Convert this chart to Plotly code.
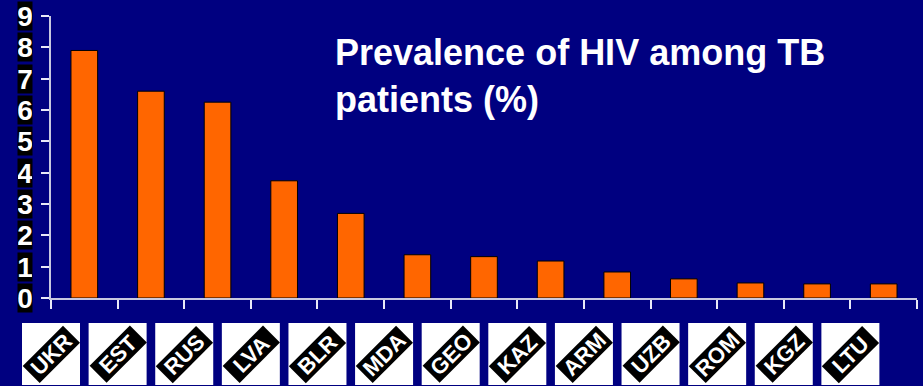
import plotly.graph_objects as go

countries = ["UKR", "EST", "RUS", "LVA", "BLR", "MDA", "GEO", "KAZ", "ARM", "UZB", "ROM", "KGZ", "LTU"]
prevalence = [7.9, 6.6, 6.25, 3.74, 2.7, 1.38, 1.32, 1.18, 0.83, 0.61, 0.48, 0.45, 0.45]
y_ticks = [0, 1, 2, 3, 4, 5, 6, 7, 8, 9]
title_text = "Prevalence of HIV among TB<br>patients (%)"

W, H = 923, 386
ML, MR, MT, MB = 51, 6, 16, 88
plot_w = W - ML - MR
plot_h = H - MT - MB
n = len(countries)

def px_to_paper_y(py):
    return (H - MB - py) / plot_h

def px_to_paper_x(px):
    return (px - ML) / plot_w

fig = go.Figure(go.Bar(
    x=countries, y=prevalence,
    marker=dict(color="#FF6600", line=dict(color="#000000", width=1)),
    width=0.4,
))

shapes = []
annotations = []
box_half = 29 / plot_w
for i, c in enumerate(countries):
    cx = i / n
    shapes.append(dict(type="rect", xref="paper", yref="paper",
                       x0=cx - box_half, x1=cx + box_half,
                       y0=px_to_paper_y(385), y1=px_to_paper_y(323),
                       fillcolor="white", line=dict(width=0), layer="above"))
    annotations.append(dict(text="<b>" + c + "</b>", xref="paper", yref="paper",
                            x=cx, y=px_to_paper_y(354), xanchor="center", yanchor="middle",
                            showarrow=False, textangle=-45, bgcolor="black",
                            font=dict(family="Liberation Sans, Arial", size=22, color="white"),
                            width=56, height=23, borderpad=0))

for t in y_ticks:
    annotations.append(dict(text="<b>" + str(t) + "</b>", xref="paper", yref="y",
                            x=px_to_paper_x(25), y=t, xanchor="center", yanchor="middle",
                            showarrow=False, bgcolor="black",
                            font=dict(family="Liberation Sans Narrow, Liberation Sans, Arial", size=28, color="white"),
                            width=14, height=28, borderpad=0))

annotations.append(dict(text="<b>" + title_text + "</b>", xref="paper", yref="paper",
                        x=px_to_paper_x(333), y=px_to_paper_y(30), xanchor="left", yanchor="top",
                        align="left", showarrow=False,
                        font=dict(family="Liberation Sans, Arial", size=36, color="white")))

fig.update_layout(
    width=W, height=H,
    margin=dict(l=ML, r=MR, t=MT, b=MB),
    paper_bgcolor="#000080", plot_bgcolor="#000080",
    showlegend=False,
    shapes=shapes, annotations=annotations,
    xaxis=dict(showgrid=False, showline=True, linecolor="#C8C8E0", linewidth=2,
               ticks="outside", tickson="boundaries", ticklen=9, tickwidth=2, tickcolor="#E8E8F8",
               showticklabels=False, range=[-0.5, n - 0.5], zeroline=False),
    yaxis=dict(showgrid=False, showline=True, linecolor="#C8C8E0", linewidth=2,
               ticks="outside", ticklen=8, tickwidth=2, tickcolor="#E8E8F8",
               tickvals=y_ticks, showticklabels=False, range=[0, 9], zeroline=False),
)

fig.write_html("out.html")
